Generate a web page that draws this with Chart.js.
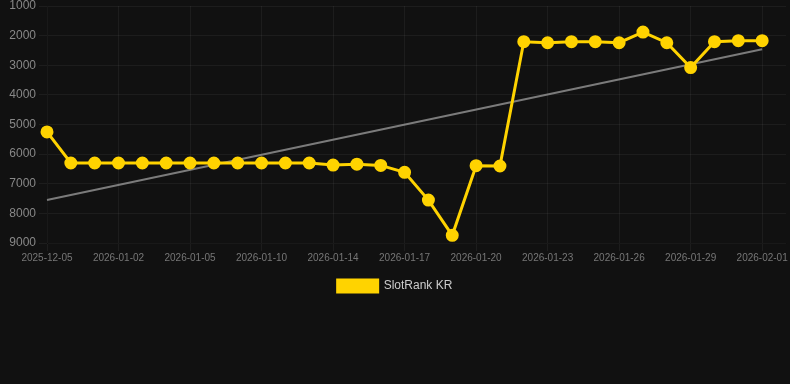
<!DOCTYPE html>
<html>
<head>
    <title>SlotRank KR</title>
    <script src="https://cdn.jsdelivr.net/npm/chart.js"></script>
    <style>
        body {
            margin: 0;
            background: #111111;
        }
        #wrap {
            position: relative;
            width: 790px;
            height: 302px;
        }
    </style>
</head>
<body>
<div id="wrap">
    <canvas id="rankChart"></canvas>
</div>

<script>
    // dates (last one is an empty slot at the end of the axis)
    const labels = [
        '2025-12-05', '2025-12-29', '2025-12-31', '2026-01-02', '2026-01-03', '2026-01-04',
        '2026-01-05', '2026-01-07', '2026-01-08', '2026-01-10', '2026-01-11', '2026-01-12',
        '2026-01-14', '2026-01-15', '2026-01-16', '2026-01-17', '2026-01-18', '2026-01-19',
        '2026-01-20', '2026-01-21', '2026-01-22', '2026-01-23', '2026-01-24', '2026-01-25',
        '2026-01-26', '2026-01-27', '2026-01-28', '2026-01-29', '2026-01-30', '2026-01-31',
        '2026-02-01', ''
    ];

    const rankKR = [
        5250, 6300, 6300, 6300, 6300, 6300,
        6300, 6300, 6300, 6300, 6300, 6300,
        6370, 6340, 6380, 6615, 7550, 8740,
        6390, 6400, 2205, 2240, 2205, 2205,
        2240, 1880, 2240, 3080, 2205, 2170,
        2170, null
    ];

    // trend line end points
    const trendStart = 7550;
    const trendEnd = 2460;

    const yTicks = [1000, 9000];

    let ctx = document.getElementById('rankChart').getContext('2d');

    let chart = new Chart(ctx, {
        type: 'line',
        data: {
            labels: labels,
            datasets: [{
                label: 'SlotRank KR',
                data: rankKR,
                borderColor: '#ffd300',
                backgroundColor: '#ffd300',
                borderWidth: 3,
                pointRadius: 5,
                pointHoverRadius: 6,
                tension: 0
            }, {
                label: 'trend',
                data: [
                    {x: labels[0], y: trendStart},
                    {x: labels[30], y: trendEnd}
                ],
                borderColor: 'rgba(150, 150, 150, 0.8)',
                backgroundColor: 'rgba(150, 150, 150, 0.8)',
                borderWidth: 2,
                pointRadius: 0
            }]
        },
        options: {
            responsive: true,
            maintainAspectRatio: false,
            animation: false,
            layout: {
                autoPadding: false // points may overlap the edges, like the original
            },
            plugins: {
                legend: {
                    position: 'bottom',
                    labels: {
                        color: '#cccccc',
                        boxWidth: 40,
                        boxHeight: 12,
                        font: {size: 12},
                        filter: item => item.text !== 'trend'
                    }
                },
                tooltip: {
                    mode: 'index',
                    intersect: false
                }
            },
            scales: {
                x: {
                    afterFit: scale => {
                        scale.height = 27;
                        scale.paddingRight = 4;
                    },
                    ticks: {
                        color: '#777777',
                        font: {size: 10},
                        maxRotation: 0,
                        padding: 1
                    },
                    grid: {
                        color: 'rgba(255, 255, 255, 0.05)'
                    }
                },
                y: {
                    reverse: true,
                    min: yTicks[0],
                    max: yTicks[1],
                    afterFit: scale => {
                        scale.width = 47;
                        scale.paddingTop = 6;
                    },
                    ticks: {
                        color: '#888888',
                        font: {size: 12},
                        stepSize: 1000,
                        callback: v => String(v)
                    },
                    grid: {
                        color: 'rgba(255, 255, 255, 0.05)'
                    }
                }
            }
        }
    });
</script>
</body>
</html>
